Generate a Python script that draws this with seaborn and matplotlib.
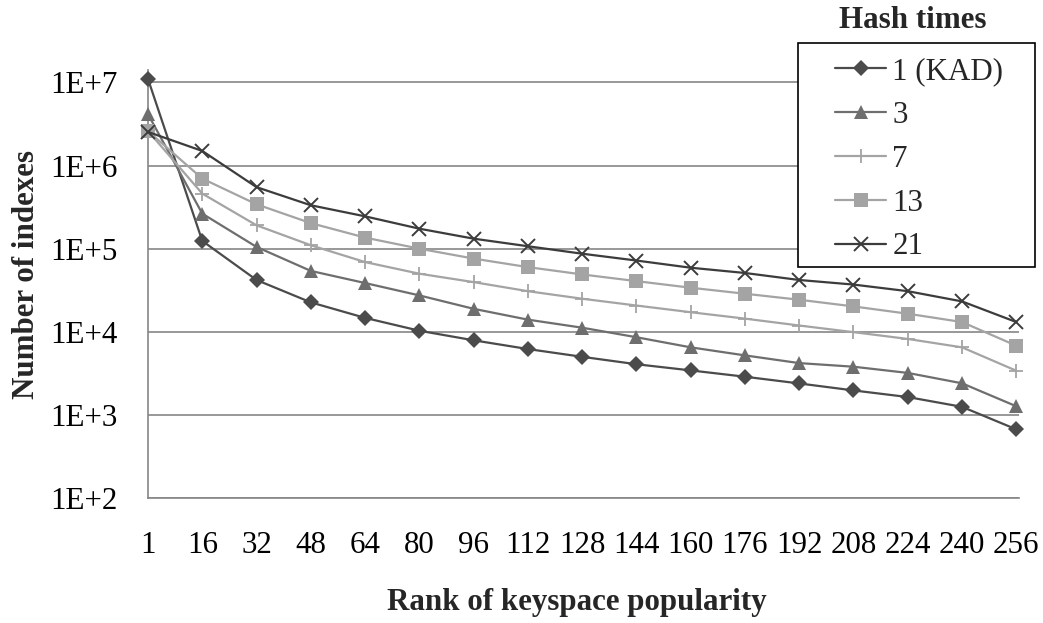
import numpy as np
import pandas as pd
import matplotlib
matplotlib.use("Agg")
import matplotlib.pyplot as plt
from matplotlib.patches import Rectangle
import seaborn as sns

# Keyspace popularity ranks (category axis)
ranks = ["1", "16", "32", "48", "64", "80", "96", "112", "128", "144",
         "160", "176", "192", "208", "224", "240", "256"]

# Number of indexes per rank, one list per hash-times setting
hash_1_kad = [1.1e7, 1.24e5, 4.2e4, 2.26e4, 1.47e4, 1.03e4, 7.9e3, 6.2e3, 5.0e3,
              4.07e3, 3.43e3, 2.88e3, 2.39e3, 1.97e3, 1.64e3, 1.25e3, 6.7e2]
hash_3 = [4.15e6, 2.64e5, 1.05e5, 5.4e4, 3.86e4, 2.74e4, 1.89e4, 1.40e4, 1.12e4,
          8.6e3, 6.5e3, 5.2e3, 4.2e3, 3.8e3, 3.2e3, 2.4e3, 1.27e3]
hash_7 = [2.6e6, 4.6e5, 1.91e5, 1.1e5, 6.9e4, 5.0e4, 3.96e4, 3.08e4, 2.5e4,
          2.07e4, 1.72e4, 1.44e4, 1.19e4, 9.9e3, 8.2e3, 6.5e3, 3.4e3]
hash_13 = [2.6e6, 6.97e5, 3.42e5, 2.03e5, 1.36e5, 1.0e5, 7.6e4, 6.0e4, 4.9e4,
           4.07e4, 3.39e4, 2.87e4, 2.43e4, 2.02e4, 1.65e4, 1.31e4, 6.8e3]
hash_21 = [2.54e6, 1.5e6, 5.5e5, 3.33e5, 2.45e5, 1.74e5, 1.32e5, 1.07e5, 8.7e4,
           7.2e4, 5.9e4, 5.1e4, 4.2e4, 3.7e4, 3.08e4, 2.32e4, 1.31e4]

series_names = ["1 (KAD)", "3", "7", "13", "21"]
series_values = [hash_1_kad, hash_3, hash_7, hash_13, hash_21]

y_ticks = [1e2, 1e3, 1e4, 1e5, 1e6, 1e7]
y_tick_labels = ["1E+2", "1E+3", "1E+4", "1E+5", "1E+6", "1E+7"]

# Long-form table for seaborn
frames = []
for name, vals in zip(series_names, series_values):
    frames.append(pd.DataFrame({
        "pos": np.arange(len(ranks)),
        "rank": ranks,
        "count": vals,
        "series": name,
    }))
df = pd.concat(frames, ignore_index=True)

sns.set_style("white")
plt.rcParams["font.family"] = ["Liberation Serif", "DejaVu Serif"]
plt.rcParams["mathtext.default"] = "regular"

FS = 22.3
GRID = "#868686"

styles = {
    "1 (KAD)": dict(color="#4b4b4b", marker="D", ms=8, mew=0),
    "3": dict(color="#6e6e6e", marker="^", ms=10, mew=0),
    "7": dict(color="#a4a4a4", marker="+", ms=10, mew=1.3),
    "13": dict(color="#a4a4a4", marker="s", ms=9.5, mew=0),
    "21": dict(color="#3c3c3c", marker="x", ms=10, mew=1.4),
}

fig = plt.figure(figsize=(10.43, 6.23), dpi=100)
ax = fig.add_axes([148 / 1043, 1 - 498 / 623, (1019 - 148) / 1043, (498 - 70) / 623])

for name in series_names:
    st = styles[name]
    sub = df[df["series"] == name]
    sns.lineplot(data=sub, x="pos", y="count", ax=ax, sort=False,
                 color=st["color"], linewidth=1.6, marker=st["marker"],
                 markersize=st["ms"], markeredgewidth=st["mew"],
                 markeredgecolor=st["color"], markerfacecolor=st["color"],
                 label=name, legend=False, clip_on=False, zorder=3)

ax.set_yscale("log")
ax.set_ylim(1e2, 10 ** 7.15)
ax.set_xlim(0, 16.05)
ax.set_yticks(y_ticks)
ax.set_yticklabels(y_tick_labels)
ax.yaxis.set_minor_locator(matplotlib.ticker.NullLocator())
ax.set_xticks(np.arange(len(ranks)))
ax.set_xticklabels(ranks)

ax.grid(axis="y", color=GRID, linewidth=1.2)
ax.grid(axis="x", visible=False)
ax.set_axisbelow(True)
for side in ["top", "right"]:
    ax.spines[side].set_visible(False)
for side in ["left", "bottom"]:
    ax.spines[side].set_color(GRID)
    ax.spines[side].set_linewidth(1.2)

ax.tick_params(axis="x", length=0, pad=24, labelsize=FS, colors="black")
ax.tick_params(axis="y", length=0, pad=22, labelsize=FS, colors="black")

ax.set_xlabel("Rank of keyspace popularity", fontsize=FS, fontweight="bold", va="center")
ax.xaxis.set_label_coords(0.4925, -0.245)
ax.set_ylabel("Number of indexes", fontsize=FS, fontweight="bold", va="center")
ax.yaxis.set_label_coords(-0.1400, 0.523)

# Legend box with its title placed above the frame
box = Rectangle((798 / 1043, 1 - 267 / 623), (1035 - 798) / 1043, (267 - 43) / 623,
                transform=fig.transFigure, facecolor="white", edgecolor="black",
                linewidth=1.2, zorder=4)
fig.patches.append(box)
handles, labels = ax.get_legend_handles_labels()
leg = fig.legend(handles, labels, loc="upper left",
                 bbox_to_anchor=(835 / 1043, 1 - 57 / 623),
                 frameon=False, fontsize=FS, handlelength=1.65,
                 handletextpad=0.2, labelspacing=0.48, borderpad=0,
                 borderaxespad=0)
leg.set_zorder(5)
fig.text(913 / 1043, 1 - 20 / 623, "Hash times", ha="center", va="center",
         fontsize=FS, fontweight="bold")

fig.savefig("out.png", dpi=100)
